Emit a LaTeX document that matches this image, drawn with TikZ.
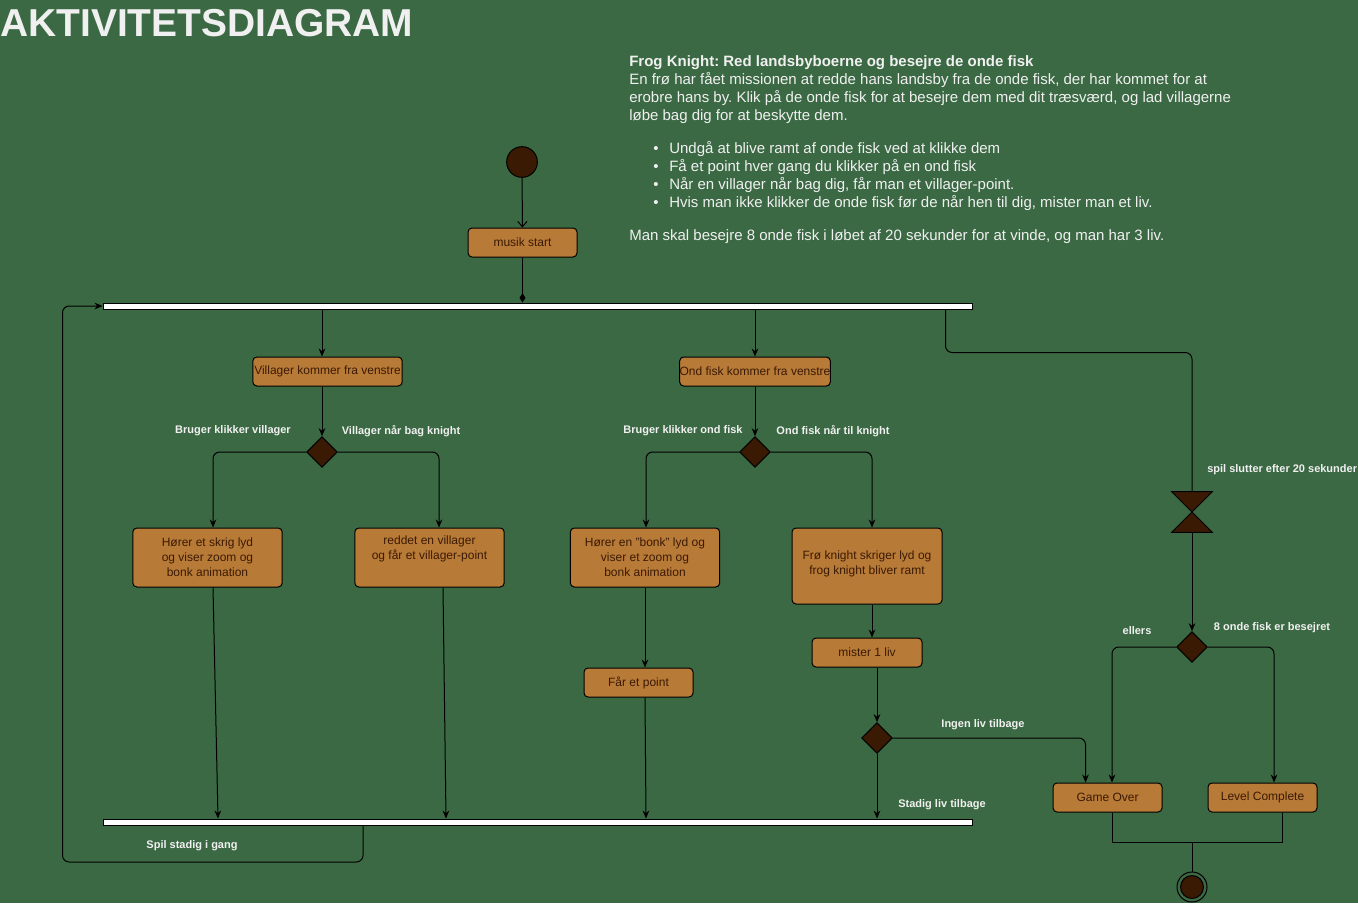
\documentclass[tikz,border=0pt]{standalone}
\usepackage{fontspec}
\setmainfont{Liberation Sans}
\usetikzlibrary{arrows.meta,shapes.geometric,positioning,calc}
\definecolor{bgColor}{HTML}{3B6944}
\definecolor{boxColor}{HTML}{B87A37}
\definecolor{penColor}{HTML}{3B1A04}
\definecolor{lightColor}{HTML}{F0F0F0}
\frenchspacing
\tikzset{>={Stealth[length=6pt,width=5pt]}}
\tikzset{
  activity/.style={draw=black, line width=0.75pt, fill=boxColor, text=penColor, rounded corners=3pt,
    inner sep=0pt, align=center, font=\fontsize{9}{11.25}\selectfont},
  actSmall/.style={minimum width=81.75pt, minimum height=21.75pt},
  actWide/.style={minimum width=112pt, minimum height=21.75pt},
  actTall/.style={minimum width=112pt, minimum height=44.25pt},
  choice/.style={diamond, draw=black, line width=0.75pt, fill=penColor, inner sep=0pt,
    minimum width=23pt, minimum height=23pt},
  bar/.style={draw=black, line width=0.75pt, fill=white, inner sep=0pt,
    minimum width=651.75pt, minimum height=4.5pt},
  guard/.style={text=lightColor, inner sep=0pt, font=\bfseries\fontsize{8.25}{10}\selectfont},
  info/.style={text=lightColor, inner sep=0pt, align=left, font=\fontsize{11.25}{13.5}\selectfont},
  flow/.style={->, line width=0.75pt, rounded corners=5pt},
}
\newcommand{\blt}{\makebox[12pt][l]{\textbullet}}

\begin{document}
\begin{tikzpicture}[x=0.75pt, y=-0.75pt]
\useasboundingbox (0,0) rectangle (1358,903);
\fill[bgColor] (0,0) rectangle (1358,903);

% title and description
\node[anchor=base west, inner sep=0pt, text=lightColor, font=\bfseries\fontsize{29.2}{34}\selectfont] (title) at (0,36) {AKTIVITETSDIAGRAM};
\node[info, anchor=north west] (intro) at (629,55) {\textbf{Frog Knight: Red landsbyboerne og besejre de onde fisk}\\
  En frø har fået missionen at redde hans landsby fra de onde fisk, der har kommet for at\\
  erobre hans by. Klik på de onde fisk for at besejre dem med dit træsværd, og lad villagerne\\
  løbe bag dig for at beskytte dem.};
\node[info, anchor=north west] (rules) at (653,141) {\blt Undgå at blive ramt af onde fisk ved at klikke dem\\
  \blt Få et point hver gang du klikker på en ond fisk\\
  \blt Når en villager når bag dig, får man et villager-point.\\
  \blt Hvis man ikke klikker de onde fisk før de når hen til dig, mister man et liv.};
\node[info, anchor=base west] (goal) at (629,240) {Man skal besejre 8 onde fisk i løbet af 20 sekunder for at vinde, og man har 3 liv.};

% start, fork and join
\node[circle, draw=black, line width=0.75pt, fill=penColor, minimum size=23pt, inner sep=0pt] (start) at (522,162) {};
\node[activity, actSmall] (musik) at (522.5,242.5) {musik start};
\node[bar] (fork) at (537.5,306) {};
\node[bar] (join) at (537.5,822) {};

% villager
\node[activity, actWide] (villager) at (327.5,371.5) {Villager kommer fra venstre};
\node[choice] (dV) at (322,452) {};
\node[activity, actTall] (skrig) at (207.5,557.5) {Hører et skrig lyd\\og viser zoom og\\bonk animation};
\node[activity, actTall, text depth=15pt] (reddet) at (429.5,557.5) {reddet en villager\\og får et villager-point};

% ond fisk
\node[activity, actWide] (ondfisk) at (755,371.5) {Ond fisk kommer fra venstre};
\node[choice] (dF) at (755,452) {};
\node[activity, actTall] (bonk) at (645,557.5) {Hører en "bonk" lyd og\\viser et zoom og\\bonk animation};
\node[activity, minimum width=112.5pt, minimum height=57pt, text depth=5pt] (froe) at (867,566) {Frø knight skriger lyd og\\frog knight bliver ramt};
\node[activity, actSmall] (point) at (638.5,682.5) {Får et point};
\node[activity, actSmall, minimum width=82.5pt] (liv) at (867,652.5) {mister 1 liv};
\node[choice] (dLiv) at (877,738) {};

% end of game
\node[minimum width=30pt, minimum height=30pt, inner sep=0pt] (timer) at (1192,512) {};
\fill[penColor, draw=black, line width=0.75pt] (timer.north west) -- (timer.north east) -- (timer.center) -- cycle;
\fill[penColor, draw=black, line width=0.75pt] (timer.south west) -- (timer.south east) -- (timer.center) -- cycle;
\node[choice] (dEnd) at (1192,647) {};
\node[activity, actSmall] (gameover) at (1107.5,797.5) {Game Over};
\node[activity, actSmall] (complete) at (1262.5,797.5) {Level Complete};
\node[circle, draw=black, line width=0.75pt, minimum size=22.5pt, inner sep=0pt] (final) at (1192,887) {};
\fill[penColor, draw=black, line width=0.75pt] (final.center) circle (8.6pt);

% guards
\node[guard] (g1) at (233,431) {Bruger klikker villager};
\node[guard] (g2) at (401,431) {Villager når bag knight};
\node[guard] (g3) at (683,431) {Bruger klikker ond fisk};
\node[guard] (g4) at (833,431) {Ond fisk når til knight};
\node[guard, anchor=west] (g5) at (1207,470) {spil slutter efter 20 sekunder};
\node[guard] (g6) at (1137,631) {ellers};
\node[guard] (g7) at (1272,628) {8 onde fisk er besejret};
\node[guard] (g8) at (983,725) {Ingen liv tilbage};
\node[guard] (g9) at (942,805) {Stadig liv tilbage};
\node[guard] (g10) at (192,846) {Spil stadig i gang};

% connectors
\draw[flow, -{Straight Barb[length=4pt,width=7pt]}] (start) -- (musik);
\draw[flow, -{Diamond[length=7pt,width=4.5pt]}] (musik) -- (musik |- fork.north);

\draw[flow] (dV |- fork.south) -- (dV |- villager.north);
\draw[flow] (dV |- villager.south) -- (dV.north);
\draw[flow] (dV.west) -| ($(skrig.north)+(5.5,0)$);
\draw[flow] (dV.east) -| ($(reddet.north)+(9.5,0)$);
\draw[flow] ($(skrig.south)+(5.5,0)$) -- ($(join.north -| skrig.south)+(10.5,0)$);
\draw[flow] ($(reddet.south)+(13.5,0)$) -- ($(join.north -| reddet.south)+(16.5,0)$);

\draw[flow] (ondfisk |- fork.south) -- (ondfisk.north);
\draw[flow] (ondfisk.south) -- (dF.north);
\draw[flow] (dF.west) -| ($(bonk.north)+(1,0)$);
\draw[flow] (dF.east) -| ($(froe.north)+(5,0)$);
\draw[flow] (bonk.south) -- (bonk.south |- point.north);
\draw[flow] (bonk.south |- point.south) -- ($(join.north -| bonk.south)+(1,0)$);
\draw[flow] ($(froe.south)+(5,0)$) -- ($(liv.north)+(5,0)$);
\draw[flow] (dLiv |- liv.south) -- (dLiv.north);
\draw[flow] (dLiv.south) -- (dLiv |- join.north);
\draw[flow] (dLiv.east) -| ($(gameover.north)+(-22,0)$);

\draw[flow, -] ($(fork.south east)+(-27,0)$) -- ++(0,43) -| (timer.north);
\draw[flow] (timer.south) -- (dEnd.north);
\draw[flow] (dEnd.west) -| ($(gameover.north)+(4.5,0)$);
\draw[flow] (dEnd.east) -| ($(complete.north)+(11.5,0)$);
\draw[line width=0.75pt] ($(gameover.south)+(4.5,0)$) |- ($(complete.south)+(19.5,30)$) -- ($(complete.south)+(19.5,0)$);
\draw[line width=0.75pt] (final.north) -- ($(final.north |- gameover.south)+(0,30)$);

\draw[flow] ($(join.south)+(-174.5,0)$) |- ($(fork.west)+(-40,556)$) -- ($(fork.west)+(-40,0)$) -- (fork.west);
\end{tikzpicture}
\end{document}
